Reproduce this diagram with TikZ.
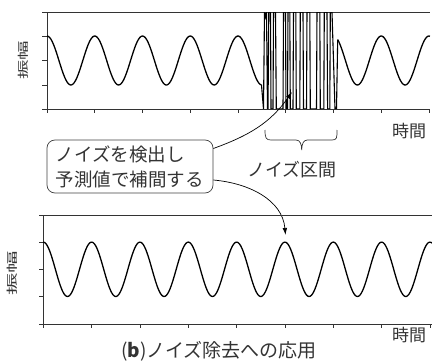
\documentclass[tikz,border=0pt]{standalone}
\usepackage{fontspec}
\setmainfont{Noto Sans CJK JP}
\usetikzlibrary{arrows.meta,calc}
\begin{document}
\begin{tikzpicture}[x=1pt,y=1pt,
  axisline/.style={line width=0.8pt, black!80},
  wave/.style={line width=1.3pt, black, line join=round},
  noise/.style={line width=1.1pt, black, line join=miter},
  conn/.style={line width=0.7pt, black, -{Latex[length=7pt,width=4.5pt]}},
  lab/.style={inner sep=0pt, text=black!80},
  callout/.style={draw=black!75, line width=0.7pt, rounded corners=8pt, minimum width=166pt, minimum height=53pt, align=left, text width=148pt, inner sep=0pt, text=black!80}
]
\useasboundingbox (0,0) rectangle (432,360);

% ---------- top plot ----------
\draw[axisline] (42,348) -- (430,348);
\draw[axisline] (47,348) -- (47,251) -- (430,251);
\foreach \y in {324,299.5,275,251} \draw[axisline] (42,\y) -- (47,\y);
\foreach \k in {0,...,8} \draw[axisline] ({47+47.75*\k},251) -- ++(0,-3.8);

\draw[wave] plot[domain=47:261.5,samples=160] (\x,{299.5+24.5*cos(7.5393*(\x-47))});
\begin{scope}
\clip (47,251.6) rectangle (430,347.4);
\draw[noise] (261.5,275) -- (263.5,251) -- (264.5,348) -- (265.5,343) -- (266.5,348) -- (267.5,251)
  -- (268,251) -- (268.8,348) -- (270.5,348) -- (271,251) -- (273,251) -- (273.5,348)
  -- (275.5,348) -- (276.3,251) -- (283,251) -- (283.5,348) -- (285.5,348) -- (286,251)
  -- (287.5,251) -- (288,348) -- (289.8,348) -- (290.3,251) -- (293,251) -- (293.5,348)
  -- (295.8,348) -- (296.3,251) -- (299.8,251) -- (300.3,348) -- (303,348) -- (303.5,251)
  -- (306.5,251) -- (307,348) -- (309.8,348) -- (310.3,251) -- (316.5,251) -- (317,348)
  -- (319.8,348) -- (320.3,251) -- (323.8,251) -- (324.3,348) -- (327,348) -- (327.6,251)
  -- (329.8,251) -- (330.3,348) -- (332,348) -- (335,251) -- (336.5,251) -- (337.7,320.3);
\end{scope}
\draw[wave] plot[domain=337.7:430,samples=80] (\x,{299.5+24.5*cos(7.5393*(\x-47))});

\node[lab, rotate=90, font=\fontsize{19.5}{20}\selectfont] (amp1) at (23,300) {\scalebox{1}[0.57]{振幅}};
\node[lab, font=\fontsize{17}{18}\selectfont] (t1) at (409,229) {時間};

% brace
\coordinate (bl) at (265,230);
\coordinate (br) at (337,230);
\draw[line width=0.7pt, black!80] (bl) .. controls (265,222) and (266,220) .. (271,220) -- (296,220)
  .. controls (300,220) and (301.7,216) .. (301.7,210)
  .. controls (301.7,216) and (303.4,220) .. (307.4,220) -- (332,220)
  .. controls (337,220) and (337,222) .. (br);
\node[lab, font=\fontsize{18}{18}\selectfont] (nz) at (292,190) {ノイズ区間};

% callout
\node[callout, font=\fontsize{18.5}{25}\selectfont] (box) at (130,193.5) {ノイズを検出し\\予測値で補間する};
\coordinate (tip1) at (292,268);
\coordinate (tip2) at (285.5,125);
\draw[conn] ([yshift=18pt]box.east) to[out=20,in=235] (tip1);
\draw[conn] ([yshift=-13.5pt]box.east) to[out=-5,in=95] (tip2);

% ---------- bottom plot ----------
\draw[axisline] (39.3,145) -- (432,145);
\draw[axisline] (43.3,145) -- (43.3,36) -- (432,36);
\foreach \y in {117.7,90.7,63.3,36} \draw[axisline] (39.3,\y) -- (43.3,\y);
\foreach \k in {0,...,8} \draw[axisline] ({43.3+48.33*\k},36) -- ++(0,-3.8);

\draw[wave] plot[domain=43.3:432,samples=320] (\x,{90.7+27.2*cos(7.4488*(\x-43.3))});

\node[lab, rotate=90, font=\fontsize{22.5}{23}\selectfont] (amp2) at (12,87) {\scalebox{1}[0.5]{振幅}};
\node[lab, font=\fontsize{17}{18}\selectfont] (t2) at (409,25) {時間};
\node[lab, anchor=base west, font=\fontsize{19}{20}\selectfont] (cap) at (121,3) {(\textbf{b})ノイズ除去への応用};
\end{tikzpicture}
\end{document}
